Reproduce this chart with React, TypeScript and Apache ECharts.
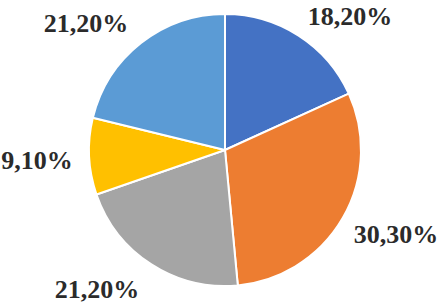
import React, { useEffect, useRef } from "react";
import * as echarts from "echarts";

const categories = ["A", "B", "C", "D", "E"];
const values = [18.2, 30.3, 21.2, 9.1, 21.2];
const labels = ["18,20%", "30,30%", "21,20%", "9,10%", "21,20%"];
const colors = ["#4472C4", "#ED7D31", "#A5A5A5", "#FFC000", "#5B9BD5"];

// label anchor positions (centre of text), Excel "best fit" style
const labelPos: [number, number][] = [
  [350, 16],
  [396, 234],
  [97, 289],
  [37, 160],
  [86, 23],
];

export default function App() {
  const ref = useRef<HTMLDivElement>(null);
  useEffect(() => {
    document.body.style.margin = "0";
    const chart = echarts.init(ref.current!, undefined, { renderer: "svg" });
    chart.setOption({
      animation: false,
      backgroundColor: "#ffffff",
      series: [
        {
          type: "pie",
          center: [225, 150],
          radius: [0, 136],
          startAngle: 90,
          clockwise: true,
          data: categories.map((c, i) => ({
            name: c,
            value: values[i],
            itemStyle: { color: colors[i] },
          })),
          itemStyle: { borderColor: "#ffffff", borderWidth: 2 },
          label: {
            show: true,
            position: "outside",
            formatter: (p: any) => labels[p.dataIndex],
            fontFamily: "'Liberation Serif', 'Times New Roman', serif",
            fontWeight: "bold",
            fontSize: 26,
            color: "#2b2b2b",
            overflow: "none",
            width: 130,
          },
          labelLine: { show: false },
          labelLayout: (p: any) => ({
            x: labelPos[p.dataIndex][0],
            y: labelPos[p.dataIndex][1],
            align: "center",
            verticalAlign: "middle",
          }),
          emphasis: { disabled: true },
        },
      ],
    });
    return () => chart.dispose();
  }, []);
  return <div ref={ref} style={{ width: 443, height: 305 }} />;
}
